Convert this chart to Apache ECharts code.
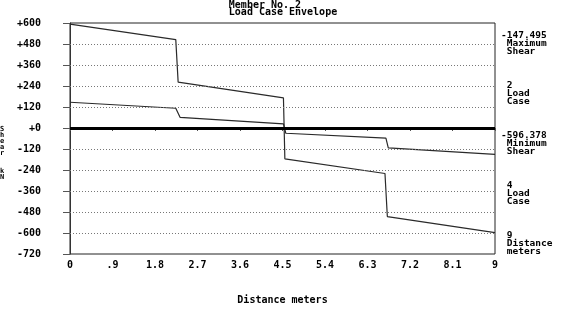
<!DOCTYPE html>
<html>
<head>
<meta charset="utf-8">
<script src="https://cdn.jsdelivr.net/npm/echarts@6/dist/echarts.min.js"></script>
<style>
html,body{margin:0;padding:0;background:#fff;}
#chart{width:566px;height:310px;}
</style>
</head>
<body>
<div id="chart"></div>
<script>
// Data
const maxDist  = [0, 2.24, 2.29, 4.52, 4.55, 6.67, 6.72, 9];
const maxShear = [594, 505, 262, 172, -176, -260, -506, -598];
const minDist  = [0, 2.24, 2.33, 4.52, 4.57, 6.69, 6.74, 9];
const minShear = [147, 113, 61, 24, -30, -58, -114, -151];
const yTickValues = [600, 480, 360, 240, 120, 0, -120, -240, -360, -480, -600, -720];
const titleLines = ['Member No. 2', 'Load Case Envelope'];
const sideBlocks = [
  ['-147.495', ' Maximum', ' Shear'],
  [' 2', ' Load', ' Case'],
  ['-596.378', ' Minimum', ' Shear'],
  [' 4', ' Load', ' Case'],
  [' 9', ' Distance', ' meters']
];
const yAxisName = 'Shear  kN';
const xAxisName = 'Distance meters';

const FONT = 'DejaVu Sans Mono';
const chart = echarts.init(document.getElementById('chart'), null, {renderer: 'canvas'});

const pairs = (xs, ys) => xs.map((x, i) => [x, ys[i]]);
const gridVals = yTickValues.filter(v => v !== 600 && v !== -720 && v !== 0);

const GRID = {left: 70, right: 71, top: 23, bottom: 51};

const graphics = sideBlocks.map((lines, i) => ({
  type: 'text',
  left: 501,
  top: 31 + i * 50,
  style: {
    text: lines.join('\n'),
    font: 'bold 9.5px "' + FONT + '"',
    fill: '#000',
    lineHeight: 8
  }
}));
graphics.push({
  type: 'text',
  left: 0,
  top: 126,
  style: {
    text: yAxisName.split('').join('\n'),
    font: 'bold 7px "' + FONT + '"',
    fill: '#000',
    lineHeight: 6
  }
});
graphics.push({
  type: 'text',
  left: 'center',
  top: 0,
  style: {
    text: titleLines.join('\n'),
    font: 'bold 10px "' + FONT + '"',
    fill: '#000',
    align: 'center',
    lineHeight: 7.5
  }
});

chart.setOption({
  animation: false,
  backgroundColor: '#fff',
  grid: Object.assign({show: true, borderColor: '#222', borderWidth: 1, backgroundColor: 'transparent'}, GRID),
  xAxis: {
    type: 'value',
    min: 0, max: 9, interval: 0.9,
    name: xAxisName,
    nameLocation: 'middle',
    nameGap: 41,
    nameTextStyle: {fontFamily: FONT, fontWeight: 'bold', fontSize: 10, color: '#000'},
    axisLine: {show: true, lineStyle: {color: '#333', width: 1}},
    axisTick: {show: true, length: 3, lineStyle: {color: '#555'}},
    axisLabel: {
      show: true, margin: 6, showMinLabel: true, showMaxLabel: true,
      fontFamily: FONT, fontWeight: 'bold', fontSize: 10, color: '#000',
      formatter: v => (+(+v).toFixed(1) + '').replace(/^0\./, '.')
    },
    splitLine: {show: false}
  },
  yAxis: {
    type: 'value',
    min: -720, max: 600, interval: 120,
    axisLine: {show: true, lineStyle: {color: '#333', width: 1}},
    axisTick: {show: true, length: 7, lineStyle: {color: '#555'}},
    axisLabel: {
      show: true, margin: 29, showMinLabel: true, showMaxLabel: true,
      fontFamily: FONT, fontWeight: 'bold', fontSize: 10, color: '#000',
      formatter: v => (v >= 0 ? '+' + v : String(v))
    },
    splitLine: {show: false}
  },
  graphic: graphics,
  series: [
    {
      type: 'line',
      data: pairs(maxDist, maxShear),
      symbol: 'none',
      lineStyle: {color: '#2a2a2a', width: 1.2},
      z: 3,
      markLine: {
        silent: true,
        symbol: 'none',
        label: {show: false},
        animation: false,
        data: gridVals.map(v => ({yAxis: v, lineStyle: {type: [1, 2], color: '#777', width: 1}}))
          .concat([{yAxis: 0, lineStyle: {type: 'solid', color: '#000', width: 3}}])
      }
    },
    {
      type: 'line',
      data: pairs(minDist, minShear),
      symbol: 'none',
      lineStyle: {color: '#2a2a2a', width: 1.2},
      z: 3
    }
  ]
});
</script>
</body>
</html>
